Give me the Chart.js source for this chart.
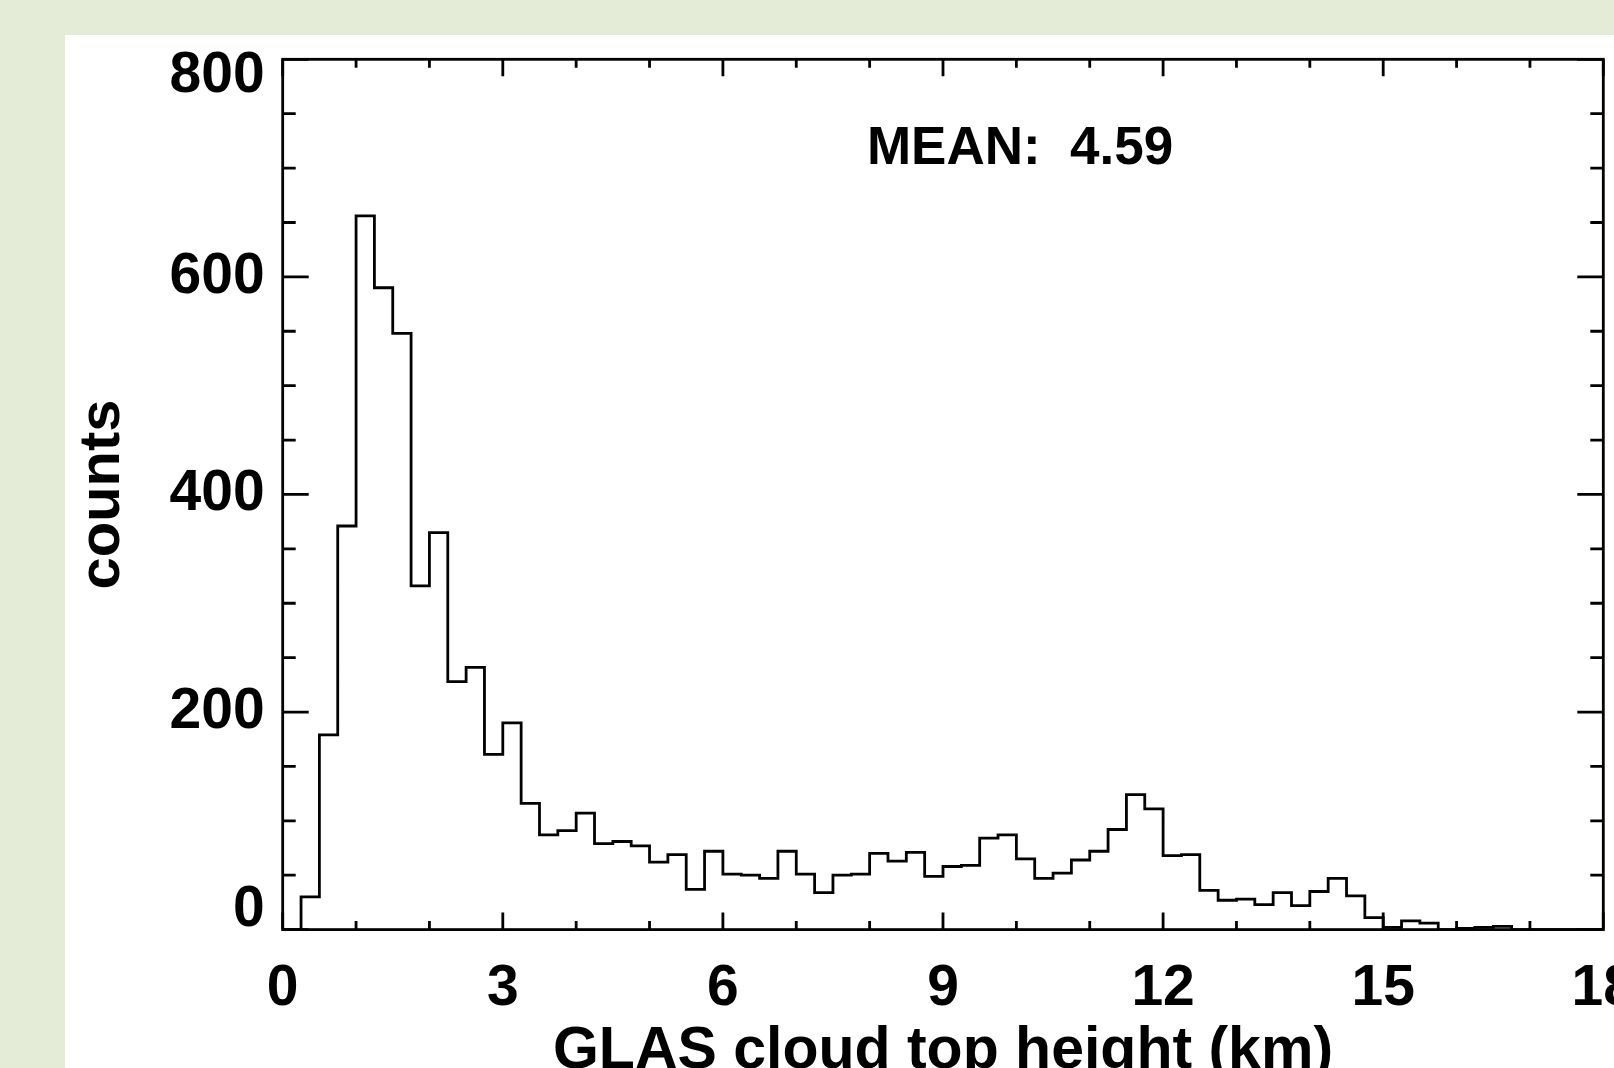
<!DOCTYPE html>
<html>
<head>
<meta charset="utf-8">
<script src="https://cdn.jsdelivr.net/npm/chart.js@4"></script>
<style>
html,body{margin:0;padding:0;background:#e4ecd8;overflow:hidden}
canvas{display:block}
</style>
</head>
<body>
<canvas id="c" width="1614" height="1068"></canvas>
<script>
// ---- data ----
const binEdges = [
  0, 0.25, 0.5, 0.75, 1, 1.25, 1.5, 1.75, 2, 2.25, 2.5, 2.75,
  3, 3.25, 3.5, 3.75, 4, 4.25, 4.5, 4.75, 5, 5.25, 5.5, 5.75,
  6, 6.25, 6.5, 6.75, 7, 7.25, 7.5, 7.75, 8, 8.25, 8.5, 8.75,
  9, 9.25, 9.5, 9.75, 10, 10.25, 10.5, 10.75, 11, 11.25, 11.5, 11.75,
  12, 12.25, 12.5, 12.75, 13, 13.25, 13.5, 13.75, 14, 14.25, 14.5, 14.75,
  15, 15.25, 15.5, 15.75, 16, 16.25, 16.5, 16.75, 17, 17.25, 17.5, 17.75,
  18
];
const counts = [
  0, 30, 179, 371, 656, 590, 548, 316, 365, 228, 241, 161,
  190, 116, 87, 91, 107, 79, 81, 77, 62, 69, 37, 72,
  51, 50, 47, 72, 51, 34, 50, 51, 70, 63, 71, 49,
  58, 59, 84, 87, 65, 47, 52, 64, 72, 92, 124, 111,
  68, 69, 36, 27, 28, 23, 34, 22, 35, 47, 31, 11,
  2, 8, 6, 0, 1, 2, 3, 0, 0, 0, 0, 0
];
const xTickValues = [0, 3, 6, 9, 12, 15, 18];
const yTickValues = [0, 200, 400, 600, 800];
const xMinorStep = 1;
const yMinorStep = 50;
const meanText = 'MEAN:  4.59';
const meanPos = [10.05, 704];
const xTitleText = 'GLAS cloud top height (km)';
const yTitleText = 'counts';

// ---- build dataset from arrays ----
const points = binEdges.map((e, i) => ({ x: e, y: i < counts.length ? counts[i] : 0 }));

const FONT = '"Liberation Sans", Arial, Helvetica, sans-serif';
Chart.defaults.font.family = FONT;
Chart.defaults.color = '#000';

const yMaxTick = yTickValues[yTickValues.length - 1];
const yMinTick = yTickValues[0];

const framePlugin = {
  id: 'frame',
  beforeDraw(chart) {
    const { ctx, width, height } = chart;
    ctx.save();
    ctx.fillStyle = '#e4ecd8';
    ctx.fillRect(0, 0, width, height);
    ctx.fillStyle = '#ffffff';
    ctx.fillRect(65, 35, width - 65, height - 35);
    ctx.restore();
  },
  afterDatasetsDraw(chart) {
    const { ctx, chartArea: a, scales: { x, y } } = chart;
    ctx.save();
    ctx.strokeStyle = '#000';
    ctx.lineWidth = 2.8;
    ctx.lineCap = 'butt';
    ctx.beginPath();
    // y-axis ticks (left and right, pointing inward)
    for (let v = y.min; v <= y.max; v += yMinorStep) {
      const p = y.getPixelForValue(v);
      const len = yTickValues.includes(v) ? 26 : 13;
      ctx.moveTo(a.left, p); ctx.lineTo(a.left + len, p);
      ctx.moveTo(a.right, p); ctx.lineTo(a.right - len, p);
    }
    // x-axis ticks (bottom and top, pointing inward)
    for (let v = x.min; v <= x.max; v += xMinorStep) {
      const p = x.getPixelForValue(v);
      const len = xTickValues.includes(v) ? 17 : 8.5;
      ctx.moveTo(p, a.bottom); ctx.lineTo(p, a.bottom - len);
      ctx.moveTo(p, a.top); ctx.lineTo(p, a.top + len);
    }
    ctx.stroke();
    ctx.strokeRect(a.left, a.top, a.right - a.left, a.bottom - a.top);
    // mean annotation
    ctx.fillStyle = '#000';
    ctx.font = 'bold 53px ' + FONT;
    ctx.textAlign = 'center';
    ctx.textBaseline = 'alphabetic';
    ctx.fillText(meanText, x.getPixelForValue(meanPos[0]), y.getPixelForValue(meanPos[1]));
    ctx.restore();
  }
};

new Chart(document.getElementById('c'), {
  type: 'line',
  data: {
    datasets: [{
      data: points,
      stepped: true,
      borderColor: '#000',
      borderWidth: 2.8,
      pointRadius: 0,
      fill: false,
      tension: 0
    }]
  },
  options: {
    responsive: false,
    animation: false,
    devicePixelRatio: 1,
    layout: { padding: { left: 65, top: 59.3, right: 10.7, bottom: 0 } },
    plugins: { legend: { display: false }, tooltip: { enabled: false }, title: { display: false } },
    scales: {
      x: {
        type: 'linear', min: 0, max: 18, position: 'bottom',
        grid: { display: false, drawTicks: false },
        border: { display: false },
        afterBuildTicks(s) { s.ticks = xTickValues.map(v => ({ value: v })); },
        ticks: {
          autoSkip: false, maxRotation: 0, minRotation: 0, padding: 25, color: '#000',
          font: { family: FONT, size: 57, weight: 'bold', lineHeight: 1.2 }
        },
        title: {
          display: true, text: xTitleText, color: '#000',
          font: { family: FONT, size: 59, weight: 'bold', lineHeight: 1 },
          padding: { top: 0, bottom: -13 }
        },
        afterFit(s) { s.height = 138.4; s.paddingLeft = 0; s.paddingRight = 0; }
      },
      y: {
        type: 'linear', min: 0, max: 800, position: 'left',
        grid: { display: false, drawTicks: false },
        border: { display: false },
        afterBuildTicks(s) { s.ticks = yTickValues.map(v => ({ value: v })); },
        ticks: {
          autoSkip: false, padding: 18, color: '#000',
          // end labels are kept inside the axis range, as in the reference
          callback: (v) => v === yMaxTick ? ['', String(v)] : (v === yMinTick ? [String(v), ''] : String(v)),
          font: (c) => ({
            family: FONT, size: 57, weight: 'bold',
            lineHeight: c.tick && c.tick.value === yMaxTick ? 0.6 : (c.tick && c.tick.value === yMinTick ? 0.667 : 1.2)
          })
        },
        title: {
          display: true, text: yTitleText, color: '#000',
          font: { family: FONT, size: 58, weight: 'bold', lineHeight: 1 },
          padding: { top: 9, bottom: 0 }
        },
        afterFit(s) { s.width = 217.7; s.paddingTop = 0; s.paddingBottom = 0; }
      }
    }
  },
  plugins: [framePlugin]
});
</script>
</body>
</html>
